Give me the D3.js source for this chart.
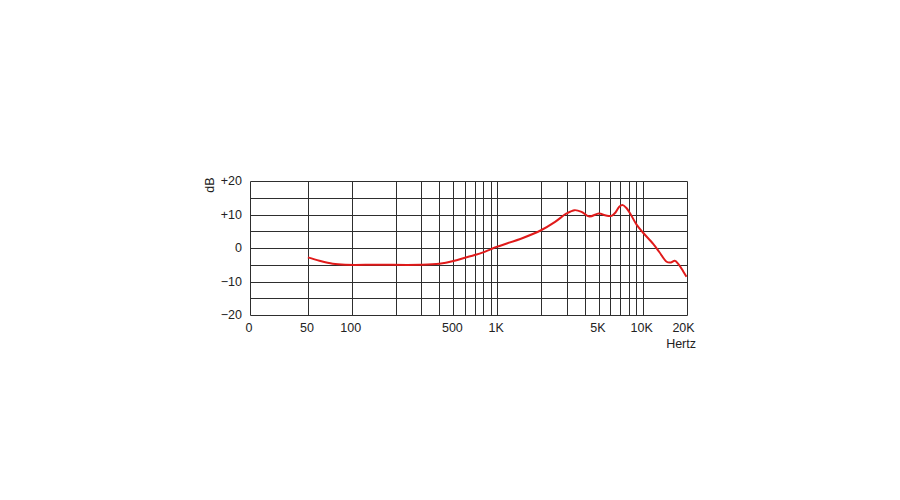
<!DOCTYPE html>
<html><head><meta charset="utf-8">
<script src="https://cdn.jsdelivr.net/npm/d3@7"></script>
<style>
html,body{margin:0;padding:0;background:#fff;}
text{font-family:"Liberation Sans",Arial,sans-serif;font-size:12.5px;fill:#222;}
</style></head>
<body><svg id="c" width="900" height="500"></svg>
<script>
// Data
const freqs = [50, 60, 74, 90, 150, 300, 400, 500, 600, 700, 800, 900, 1000, 1500, 2000, 2500, 3000, 3400, 3800, 4300, 5000, 5600, 6100, 6500, 6900, 7300, 7700, 8200, 9100, 10000, 11800, 13000, 14600, 15600, 16600, 17600, 19000, 20000];
const dB =    [-2.8, -3.8, -4.7, -5, -5, -5, -4.7, -3.9, -2.9, -2.1, -1.3, -0.4, 0.4, 3.0, 5.3, 7.8, 10.3, 11.3, 10.8, 9.4, 10.3, 9.7, 9.6, 10.6, 12.3, 12.8, 12.0, 10.3, 6.9, 4.7, 1.2, -1.2, -4.1, -4.3, -3.8, -4.8, -7.0, -8.6];
const gridFreqs = [50, 100, 200, 300, 400, 500, 600, 700, 800, 900, 1000, 2000, 3000, 4000, 5000, 6000, 7000, 8000, 9000, 10000, 20000];
const xTickVals = [20, 50, 100, 500, 1000, 5000, 10000, 20000];
const xTickLabels = ["0", "50", "100", "500", "1K", "5K", "10K", "20K"];
const yGrid = [-20, -15, -10, -5, 0, 5, 10, 15, 20];
const yTickVals = [20, 10, 0, -10, -20];
const yTickLabels = ["+20", "+10", "0", "\u221210", "\u221220"];

const svg = d3.select("#c");
const x = d3.scaleLog().domain([20, 20000]).range([250, 686.5]);
const y = d3.scaleLinear().domain([-20, 20]).range([315, 181]);
const g = svg.append("g");
const px = v => Math.round(v) + 0.5;

// horizontal grid
g.selectAll(".hg").data(yGrid).join("line")
  .attr("x1", px(x(20))).attr("x2", px(x(20000)))
  .attr("y1", d => px(y(d))).attr("y2", d => px(y(d)))
  .attr("stroke", "#2e2e2e").attr("stroke-width", 1);
// vertical grid
g.selectAll(".vg").data([20].concat(gridFreqs)).join("line")
  .attr("x1", d => px(x(d))).attr("x2", d => px(x(d)))
  .attr("y1", px(y(20))).attr("y2", px(y(-20)))
  .attr("stroke", "#2e2e2e").attr("stroke-width", 1);

// y labels
g.selectAll(".yl").data(yTickVals).join("text")
  .attr("x", 242).attr("y", d => y(d)).attr("dy", "0.35em")
  .attr("text-anchor", "end").text((d, i) => yTickLabels[i]);
// x labels
g.selectAll(".xl").data(xTickVals).join("text")
  .attr("x", d => d === 20000 ? x(d) - 3 : x(d) - 1).attr("y", 331.5)
  .attr("text-anchor", "middle").text((d, i) => xTickLabels[i]);

svg.append("text").attr("transform", "translate(213.5,185) rotate(-90)")
  .attr("text-anchor", "middle").text("dB");
svg.append("text").attr("x", 696).attr("y", 348).attr("text-anchor", "end").text("Hertz");

// curve
const line = d3.line().x((d, i) => x(freqs[i])).y(d => y(d)).curve(d3.curveCatmullRom.alpha(0.5));
svg.append("path").attr("d", line(dB)).attr("fill", "none")
  .attr("stroke", "#e01a1a").attr("stroke-width", 2);
</script></body></html>
